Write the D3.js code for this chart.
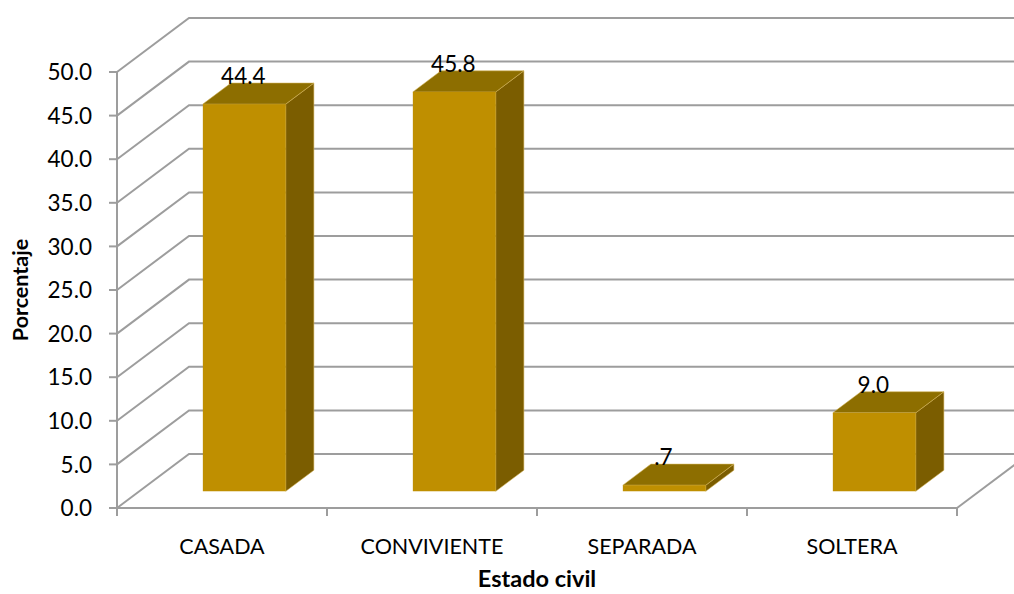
<!DOCTYPE html>
<html>
<head>
<meta charset="utf-8">
<script src="https://cdn.jsdelivr.net/npm/d3@7"></script>
<style>
  html, body { margin: 0; padding: 0; background: #fff; }
  svg { display: block; }
  text { font-family: Lato, "Open Sans", sans-serif; fill: #000; }
</style>
</head>
<body>
<svg id="chart" width="1014" height="594"></svg>
<script>
// Estado civil de las encuestadas (porcentaje)
const categories = ["CASADA", "CONVIVIENTE", "SEPARADA", "SOLTERA"];
const values = [44.4, 45.8, 0.7, 9.0];
const yTicks = [0, 5, 10, 15, 20, 25, 30, 35, 40, 45, 50];

const svg = d3.select("#chart");
const W = 1014, H = 594;

// Front plane of the 3D box and the depth offset of its back wall
const left = 117, right = 957, floorY = 508, topY = 72;
const depthX = 72, depthY = -54;

const x = d3.scaleBand().domain(categories).range([left, right])
  .paddingInner(0.605).paddingOuter(0.3025);
const y = d3.scaleLinear().domain([0, 50]).range([floorY, topY]);

const gridColor = "#9d9d9d";
const off = d => [d * depthX, d * depthY];

const g = svg.append("g");

// Back wall gridlines and left wall diagonals
const grid = g.append("g").attr("stroke", gridColor).attr("stroke-width", 2).attr("fill", "none");
yTicks.forEach(t => {
  const yy = y(t);
  grid.append("path")
    .attr("d", `M${left},${yy} L${left + depthX},${yy + depthY} L${W + 20},${yy + depthY}`);
});
// Floor right edge
grid.append("line")
  .attr("x1", right).attr("y1", floorY)
  .attr("x2", right + depthX).attr("y2", floorY + depthY);

// Front axes
const axes = g.append("g").attr("stroke", gridColor).attr("stroke-width", 2);
axes.append("line").attr("x1", left).attr("y1", topY).attr("x2", left).attr("y2", floorY + 8);
axes.append("line").attr("x1", left).attr("y1", floorY).attr("x2", right).attr("y2", floorY);
yTicks.forEach(t => {
  axes.append("line").attr("x1", left - 8).attr("x2", left).attr("y1", y(t)).attr("y2", y(t));
});
const edges = d3.range(categories.length + 1).map(i => left + i * x.step());
edges.forEach(ex => {
  axes.append("line").attr("x1", ex).attr("x2", ex).attr("y1", floorY).attr("y2", floorY + 8);
});

// Y tick labels
g.append("g").selectAll("text").data(yTicks).join("text")
  .attr("x", 92).attr("y", d => y(d))
  .attr("dy", "0.36em")
  .attr("text-anchor", "end")
  .attr("font-size", 22.5)
  .text(d => d3.format(".1f")(d));

// Category labels
g.append("g").selectAll("text").data(categories).join("text")
  .attr("x", d => x(d) + x.bandwidth() / 2)
  .attr("y", 554)
  .attr("text-anchor", "middle")
  .attr("font-size", 21.5)
  .text(d => d);

// 3D bars: front face sits partway into the box depth
const d0 = 0.31, d1 = 0.70;
const colFront = "#bf8f00", colTop = "#8d6e00", colSide = "#7b5d00", colEdge = "rgba(214,180,90,0.55)";
const bars = g.append("g").selectAll("g").data(categories.map((c, i) => ({ c, v: values[i] }))).join("g");
bars.each(function (d) {
  const sel = d3.select(this);
  const [fx, fy] = off(d0), [bx, by] = off(d1);
  const xa = x(d.c) + fx, xb = xa + x.bandwidth();
  const ya = y(0) + fy, yt = y(d.v) + fy;
  const ddx = bx - fx, ddy = by - fy;
  // side face
  sel.append("path")
    .attr("d", `M${xb},${ya} L${xb + ddx},${ya + ddy} L${xb + ddx},${yt + ddy} L${xb},${yt} Z`)
    .attr("fill", colSide).attr("stroke", colEdge).attr("stroke-width", 1);
  // top face
  sel.append("path")
    .attr("d", `M${xa},${yt} L${xb},${yt} L${xb + ddx},${yt + ddy} L${xa + ddx},${yt + ddy} Z`)
    .attr("fill", colTop).attr("stroke", colEdge).attr("stroke-width", 1);
  // front face
  sel.append("rect")
    .attr("x", xa).attr("y", yt).attr("width", xb - xa).attr("height", ya - yt)
    .attr("fill", colFront);
  // value label
  const fmt = d3.format(".1f")(d.v).replace(/^0\./, ".");
  sel.append("text")
    .attr("x", (xa + xb) / 2 - 1)
    .attr("y", yt + ddy - 7)
    .attr("dy", "0.36em")
    .attr("text-anchor", "middle")
    .attr("font-size", 22.5)
    .text(fmt);
});

// Axis titles
g.append("text")
  .attr("transform", `translate(20,290) rotate(-90)`)
  .attr("text-anchor", "middle").attr("dy", "0.36em")
  .attr("font-size", 21.5).attr("font-weight", "bold")
  .text("Porcentaje");
g.append("text")
  .attr("x", 537).attr("y", 579).attr("dy", "0.36em")
  .attr("text-anchor", "middle")
  .attr("font-size", 23.5).attr("font-weight", "bold")
  .text("Estado civil");
</script>
</body>
</html>
